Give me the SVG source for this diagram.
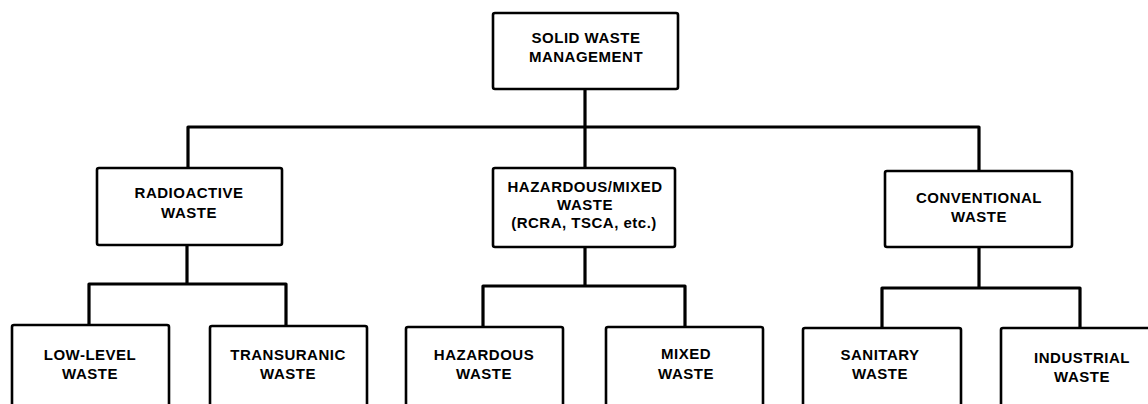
<svg xmlns="http://www.w3.org/2000/svg" width="1148" height="404" viewBox="0 0 1148 404">
<style>
.box{fill:#fff;stroke:#000;stroke-width:2.6}
.ln{fill:none;stroke:#000;stroke-width:3.2;stroke-linejoin:round}
text{font-family:"Liberation Sans",Arial,Helvetica,sans-serif;font-weight:bold;font-size:15px;letter-spacing:0.5px;text-anchor:middle;fill:#000}
</style>
<rect width="1148" height="404" fill="#fff"/>
<g id="connectors">
<path class="ln" d="M585,89 V127"/>
<path class="ln" d="M188,168 V127 H979 V171"/>
<path class="ln" d="M585,127 V168"/>
<path class="ln" d="M187,245 V284"/>
<path class="ln" d="M89,325 V284 H286 V326"/>
<path class="ln" d="M585,247 V286"/>
<path class="ln" d="M483,326 V286 H685 V327"/>
<path class="ln" d="M979,247 V288"/>
<path class="ln" d="M882,328 V288 H1080 V328"/>
</g>
<g id="solid-waste-management">
<rect class="box" x="493" y="13" width="185" height="76" rx="2"/>
<text x="586" y="43">SOLID WASTE</text>
<text x="586" y="62">MANAGEMENT</text>
</g>
<g id="radioactive-waste">
<rect class="box" x="97" y="168" width="185" height="77" rx="2"/>
<text x="189" y="198">RADIOACTIVE</text>
<text x="189" y="218">WASTE</text>
</g>
<g id="hazardous-mixed-waste">
<rect class="box" x="493" y="168" width="182" height="79" rx="2"/>
<text x="585" y="192">HAZARDOUS/MIXED</text>
<text x="585" y="210">WASTE</text>
<text x="584" y="228">(RCRA, TSCA, etc.)</text>
</g>
<g id="conventional-waste">
<rect class="box" x="885" y="171" width="187" height="76" rx="2"/>
<text x="979" y="203">CONVENTIONAL</text>
<text x="979" y="222">WASTE</text>
</g>
<g id="low-level-waste">
<rect class="box" x="12" y="325" width="157" height="110" rx="2"/>
<text x="90" y="360">LOW-LEVEL</text>
<text x="90" y="379">WASTE</text>
</g>
<g id="transuranic-waste">
<rect class="box" x="210" y="326" width="157" height="110" rx="2"/>
<text x="288" y="360">TRANSURANIC</text>
<text x="288" y="379">WASTE</text>
</g>
<g id="hazardous-waste">
<rect class="box" x="406" y="327" width="157" height="110" rx="2"/>
<text x="484" y="360">HAZARDOUS</text>
<text x="484" y="379">WASTE</text>
</g>
<g id="mixed-waste">
<rect class="box" x="606" y="327" width="157" height="110" rx="2"/>
<text x="686" y="359">MIXED</text>
<text x="686" y="379">WASTE</text>
</g>
<g id="sanitary-waste">
<rect class="box" x="803" y="328" width="158" height="110" rx="2"/>
<text x="880" y="360">SANITARY</text>
<text x="880" y="379">WASTE</text>
</g>
<g id="industrial-waste">
<rect class="box" x="1001" y="328" width="170" height="110" rx="2"/>
<text x="1082" y="363">INDUSTRIAL</text>
<text x="1082" y="382">WASTE</text>
</g>
</svg>
